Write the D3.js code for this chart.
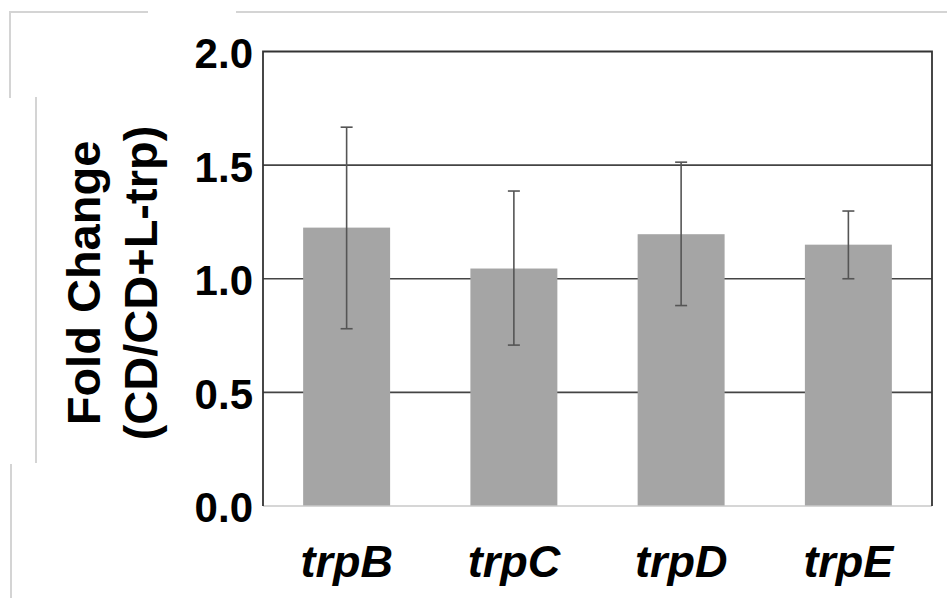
<!DOCTYPE html>
<html>
<head>
<meta charset="utf-8">
<script src="https://cdn.jsdelivr.net/npm/d3@7"></script>
<style>
  body { margin: 0; background: #fff; }
  svg { display: block; font-family: "Liberation Sans", Arial, sans-serif; }
</style>
</head>
<body>
<div id="chart"></div>
<script>
// data
const genes = ["trpB", "trpC", "trpD", "trpE"]
const foldChange = [1.225, 1.045, 1.196, 1.150]
const errLow = [0.780, 0.708, 0.882, 1.000]
const errHigh = [1.667, 1.386, 1.513, 1.298]
const yTicks = [0, 0.5, 1.0, 1.5, 2.0]

const width = 947, height = 598
const margin = { top: 51.5, right: 15, bottom: 92, left: 263 }

const svg = d3.select("#chart")
  .append("svg")
  .attr("width", width)
  .attr("height", height)

// faint frame pieces around the figure panel
const frame = svg.append("g")
  .attr("stroke", "#d4d4d4")
  .attr("stroke-width", 2)
  .attr("fill", "none")
frame.append("path").attr("d", "M10,98 V12 H148")
frame.append("path").attr("d", "M236,12 H947")
frame.append("path").attr("d", "M36,97 V463")
frame.append("path").attr("d", "M11,464 V598")

let x = d3.scaleBand()
  .domain(genes)
  .range([margin.left, width - margin.right])
  .paddingInner(0.48)
  .paddingOuter(0.24)

let y = d3.scaleLinear()
  .domain([0, 2])
  .range([height - margin.bottom, margin.top])

// grid lines behind the bars
svg.append("g")
  .selectAll("line")
  .data(yTicks.filter(d => d > 0 && d < 2))
  .enter().append("line")
    .attr("x1", margin.left)
    .attr("x2", width - margin.right)
    .attr("y1", d => y(d))
    .attr("y2", d => y(d))
    .attr("stroke", "#444")
    .attr("stroke-width", 1.6)

// bars
svg.append("g")
  .selectAll("rect")
  .data(genes)
  .enter().append("rect")
    .attr("x", d => x(d))
    .attr("y", (d, i) => y(foldChange[i]))
    .attr("width", x.bandwidth())
    .attr("height", (d, i) => y(0) - y(foldChange[i]))
    .attr("fill", "#a5a5a5")

// error bars
let err = svg.append("g")
  .attr("stroke", "#555")
  .attr("stroke-width", 1.6)
  .selectAll("g")
  .data(genes)
  .enter().append("g")
    .attr("transform", d => `translate(${x(d) + x.bandwidth() / 2},0)`)

err.append("line")
  .attr("y1", (d, i) => y(errLow[i]))
  .attr("y2", (d, i) => y(errHigh[i]))
err.append("line")
  .attr("x1", -6).attr("x2", 6)
  .attr("y1", (d, i) => y(errHigh[i]))
  .attr("y2", (d, i) => y(errHigh[i]))
err.append("line")
  .attr("x1", -6).attr("x2", 6)
  .attr("y1", (d, i) => y(errLow[i]))
  .attr("y2", (d, i) => y(errLow[i]))

// plot border: dark top/left/right, light bottom
svg.append("line")
  .attr("x1", margin.left).attr("x2", width - margin.right)
  .attr("y1", y(0)).attr("y2", y(0))
  .attr("stroke", "#c8c8c8").attr("stroke-width", 1.6)
svg.append("path")
  .attr("d", `M${margin.left},${y(0)} V${y(2)} H${width - margin.right} V${y(0)}`)
  .attr("fill", "none")
  .attr("stroke", "#333")
  .attr("stroke-width", 1.8)

// y axis labels
svg.append("g")
  .attr("transform", `translate(${margin.left},0)`)
  .call(d3.axisLeft(y)
          .tickValues(yTicks)
          .tickSize(0)
          .tickPadding(10)
          .tickFormat(d3.format(".1f")))
  .call(g => g.select(".domain").remove())
  .call(g => g.selectAll(".tick text")
    .attr("font-family", "Liberation Sans, Arial, sans-serif")
    .attr("font-size", 42)
    .attr("font-weight", "bold")
    .attr("fill", "#000")
    .attr("dy", "0.38em"))

// x axis labels
svg.append("g")
  .attr("transform", `translate(0,${y(0)})`)
  .call(d3.axisBottom(x).tickSize(0).tickPadding(0))
  .call(g => g.select(".domain").remove())
  .call(g => g.selectAll(".tick text")
    .attr("y", 71)
    .attr("dy", 0)
    .attr("font-family", "Liberation Sans, Arial, sans-serif")
    .attr("font-size", 45)
    .attr("font-weight", "bold")
    .attr("font-style", "italic")
    .attr("fill", "#000"))

// y title, two lines
let title = svg.append("text")
  .attr("transform", "translate(0,283) rotate(-90)")
  .attr("text-anchor", "middle")
  .attr("font-size", 47)
  .attr("font-weight", "bold")
  .attr("fill", "#000")
title.append("tspan").attr("x", 0).attr("y", 100).text("Fold Change")
title.append("tspan").attr("x", 0).attr("y", 157).text("(CD/CD+L-trp)")
</script>
</body>
</html>
